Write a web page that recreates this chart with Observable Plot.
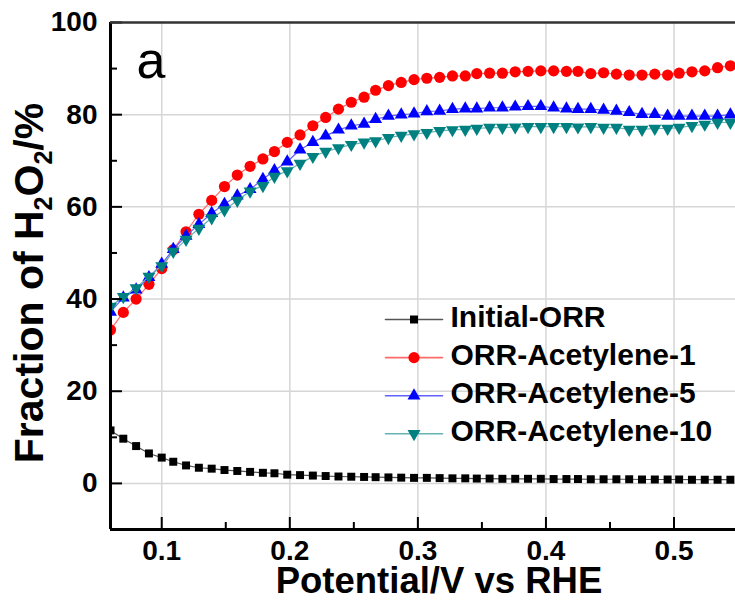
<!DOCTYPE html>
<html><head><meta charset="utf-8">
<script src="https://cdn.jsdelivr.net/npm/d3@7"></script>
<script src="https://cdn.jsdelivr.net/npm/@observablehq/plot@0.6"></script>
<style>html,body{margin:0;padding:0;background:#fff;} svg{display:block;}</style>
</head><body><div id="chart"></div>
<script>
// ---- data ----
const potential = [0.060,0.070,0.080,0.090,0.100,0.109,0.119,0.129,0.139,0.149,
  0.159,0.169,0.179,0.188,0.198,0.208,0.218,0.228,0.238,0.248,
  0.258,0.267,0.277,0.287,0.297,0.307,0.317,0.327,0.337,0.346,
  0.356,0.366,0.376,0.386,0.396,0.406,0.416,0.425,0.435,0.445,
  0.455,0.465,0.475,0.485,0.495,0.504,0.514,0.524,0.534,0.544];
const initialORR = [11.5,9.7,8.1,6.5,5.6,4.7,3.9,3.4,3.2,2.9,
  2.7,2.5,2.3,2.2,1.9,1.8,1.7,1.6,1.5,1.45,
  1.4,1.35,1.3,1.25,1.2,1.2,1.15,1.1,1.1,1.05,
  1.05,1.0,1.0,1.0,1.0,0.95,0.95,0.95,0.9,0.9,
  0.9,0.9,0.85,0.85,0.85,0.85,0.8,0.8,0.8,0.8];
const acetylene1 = [33.3,37.1,40.0,43.2,46.6,50.7,54.6,58.4,61.4,64.4,
  66.9,68.8,70.4,72.0,74.0,75.6,77.6,79.4,81.2,82.7,
  83.8,85.3,86.3,87.0,87.6,87.9,88.1,88.4,88.4,88.9,
  89.0,89.0,89.3,89.4,89.5,89.5,89.4,89.4,88.9,89.1,
  88.8,88.6,88.6,88.8,88.6,89.0,89.3,89.5,90.2,90.6];
const acetylene5 = [37.2,40.3,42.0,44.7,47.6,50.8,53.7,56.2,58.6,60.6,
  62.4,63.8,66.0,67.9,69.8,72.4,74.0,75.4,76.7,77.6,
  78.0,79.0,79.7,80.0,80.2,80.7,80.8,81.2,81.3,81.3,
  81.5,81.5,81.7,81.8,81.8,81.5,81.3,81.2,81.2,81.0,
  80.8,80.5,80.1,80.1,79.7,79.7,79.7,79.7,79.7,80.0];
const acetylene10 = [38.4,40.5,42.4,44.9,47.2,50.3,52.9,55.3,57.6,59.3,
  61.4,63.4,64.6,66.6,67.8,69.4,70.9,72.0,72.8,73.5,
  74.0,74.3,75.0,75.5,75.8,76.1,76.5,76.7,76.8,77.0,
  77.2,77.2,77.3,77.4,77.4,77.4,77.4,77.3,77.4,77.2,
  77.2,76.8,76.8,77.0,77.0,77.2,77.6,77.9,78.3,78.3];
const seriesNames = ["Initial-ORR","ORR-Acetylene-1","ORR-Acetylene-5","ORR-Acetylene-10"];
const xMajorTicks = [0.1,0.2,0.3,0.4,0.5];
const xMinorTicks = [0.15,0.25,0.35,0.45];
const yMajorTicks = [0,20,40,60,80,100];
const yMinorTicks = [10,30,50,70,90];
const yGridTicks = [0,20,40,60,80];
const xDomain = [0.06,0.548];
const yDomain = [-10,100];
const xLabelText = "Potential/V vs RHE";
const yLabelText = "Fraction of H2O2/%";
const panelLabel = "a";

// ---- styles ----
const styles = [
  {symbol:"square", r:4.5, fill:"#000000", line:"#555555", rotate:0},
  {symbol:"circle", r:5.6, fill:"#ff0000", line:"#ff6b6b", rotate:0},
  {symbol:"triangle", r:4.8, fill:"#0000ff", line:"#6060ff", rotate:0},
  {symbol:"triangle", r:4.8, fill:"#008080", line:"#66b3b3", rotate:180}
];
const seriesValues = [initialORR, acetylene1, acetylene5, acetylene10];
const rows = seriesValues.flatMap((vals, s) => vals.map((v, i) => ({potential: potential[i], value: v, series: seriesNames[s]})));

const lineShape = {draw(context, l) { context.moveTo(0, 0); context.lineTo(0, -l); }};

const seriesMarks = seriesNames.flatMap((name, s) => {
  const st = styles[s];
  const data = rows.filter(d => d.series === name);
  return [
    Plot.line(data, {x: "potential", y: "value", stroke: st.line, strokeWidth: 1.2, clip: true}),
    Plot.dot(data, {x: "potential", y: "value", symbol: st.symbol, r: st.r, fill: st.fill, rotate: st.rotate, clip: true})
  ];
});

const legendMarks = seriesNames.flatMap((name, s) => {
  const st = styles[s];
  const rowDy = 297 + 38.1 * s;
  return [
    Plot.vector([name], {frameAnchor: "top-left", dx: 303.5, dy: rowDy, rotate: 90, length: 57, anchor: "middle", shape: lineShape, stroke: st.line, strokeWidth: 1.6}),
    Plot.dot([name], {frameAnchor: "top-left", dx: 303.5, dy: rowDy, symbol: st.symbol, r: st.r, fill: st.fill, rotate: st.rotate}),
    Plot.text([name], {frameAnchor: "top-left", dx: 340, dy: rowDy - 2, text: d => d, fontSize: 30, fontWeight: "bold", textAnchor: "start", lineAnchor: "middle", fill: "#000"})
  ];
});

const chart = Plot.plot({
  width: 735, height: 602,
  marginLeft: 110, marginRight: 0, marginTop: 22, marginBottom: 73,
  style: {fontFamily: "'Liberation Sans', Arial, sans-serif", background: "#fff", color: "#000"},
  x: {domain: xDomain},
  y: {domain: yDomain},
  marks: [
    Plot.gridX(xMajorTicks, {stroke: "#d6d6d6", strokeOpacity: 1, strokeWidth: 1.5}),
    Plot.gridY(yGridTicks, {stroke: "#d6d6d6", strokeOpacity: 1, strokeWidth: 1.5}),
    ...seriesMarks,
    ...legendMarks,
    Plot.axisX(xMajorTicks, {anchor: "bottom", tickSize: -12, tickPadding: 23, strokeWidth: 2, fontSize: 28, fontWeight: "bold", tickFormat: d => d.toFixed(1), label: null}),
    Plot.axisX(xMinorTicks, {anchor: "bottom", tickSize: -7, strokeWidth: 2, tickFormat: () => "", label: null}),
    Plot.axisY(yMajorTicks, {anchor: "left", tickSize: -12, tickPadding: 25, strokeWidth: 2, fontSize: 28, fontWeight: "bold", label: null}),
    Plot.axisY(yMinorTicks, {anchor: "left", tickSize: -7, strokeWidth: 2, tickFormat: () => "", label: null}),
    Plot.ruleX([xDomain[0]], {stroke: "#000", strokeWidth: 3}),
    Plot.ruleY([yDomain[0]], {stroke: "#000", strokeWidth: 3}),
    Plot.ruleY([yDomain[1]], {stroke: "#333", strokeWidth: 2.5}),
    Plot.text([panelLabel], {frameAnchor: "top-left", dx: 26, dy: 19, text: d => d, fontSize: 52, textAnchor: "start", lineAnchor: "top", fill: "#000"}),
    Plot.text([xLabelText], {frameAnchor: "bottom", dx: 16, dy: 52, text: d => d, fontSize: 36.5, fontWeight: "bold", lineAnchor: "middle", fill: "#000"}),
    Plot.text([yLabelText], {frameAnchor: "left", dx: -81, dy: 7, text: d => d, rotate: -90, fontSize: 41, fontWeight: "bold", lineAnchor: "middle", textAnchor: "middle", fill: "#000"})
  ]
});

// subscripts in the y label
d3.select(chart).selectAll("text").filter(function() { return this.textContent === yLabelText; }).each(function() {
  const t = d3.select(this);
  t.text(null);
  const parts = [{s: "Fraction of H"}, {s: "2", sub: true}, {s: "O"}, {s: "2", sub: true}, {s: "/%"}];
  let prevSub = false;
  parts.forEach(p => {
    const ts = t.append("tspan").text(p.s);
    if (p.sub) { ts.attr("font-size", 25).attr("dy", 9); }
    else if (prevSub) { ts.attr("dy", -9); }
    prevSub = !!p.sub;
  });
});

document.getElementById("chart").appendChild(chart);
</script>
</body></html>
